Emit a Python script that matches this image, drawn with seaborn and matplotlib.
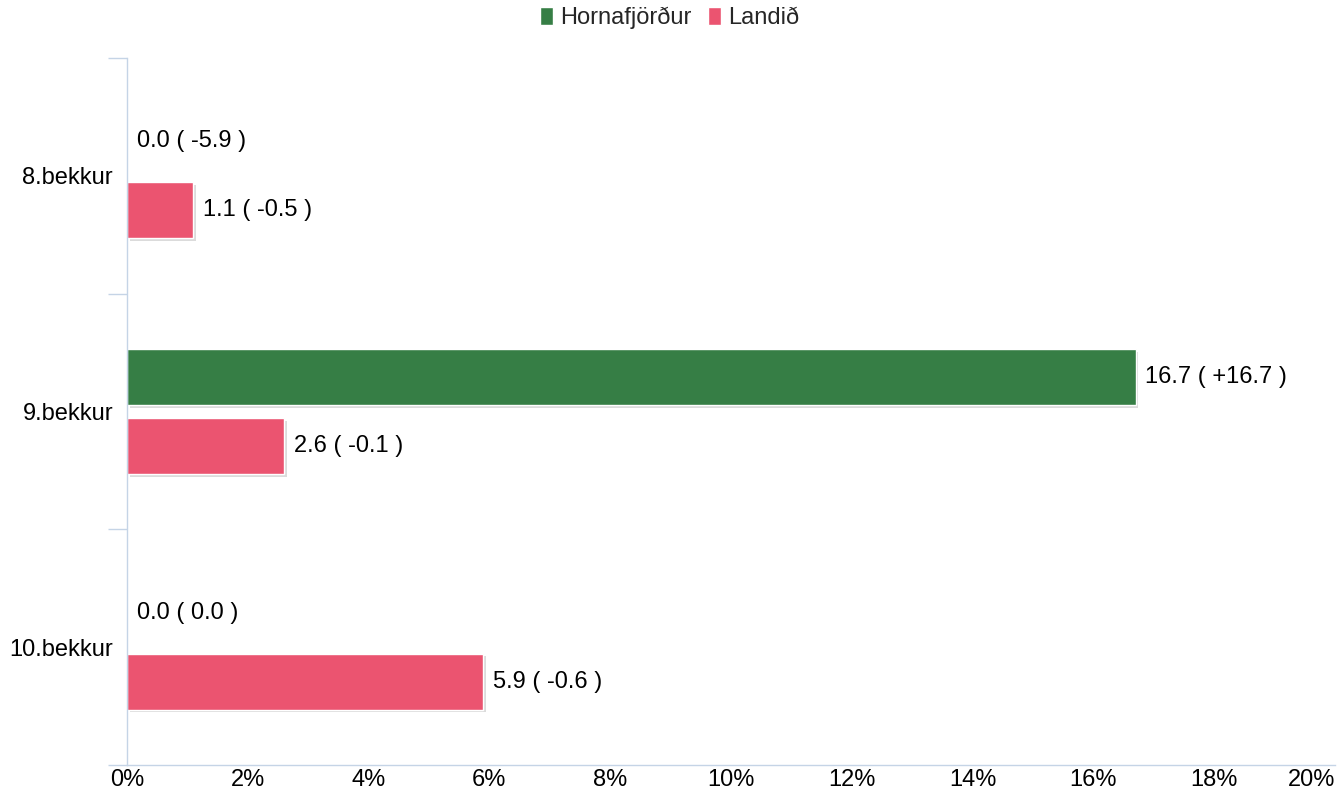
import pandas as pd
import seaborn as sns
import matplotlib.pyplot as plt
import matplotlib.patheffects as pe
from matplotlib.patches import Patch

# Values (percent) and the change shown in brackets
grades = ["8.bekkur", "9.bekkur", "10.bekkur"]
series = ["Hornafjörður", "Landið"]
hornafjordur = [0.0, 16.7, 0.0]
hornafjordur_diff = [-5.9, 16.7, 0.0]
landid = [1.1, 2.6, 5.9]
landid_diff = [-0.5, -0.1, -0.6]
x_ticks = [0, 2, 4, 6, 8, 10, 12, 14, 16, 18, 20]

colors = {"Hornafjörður": "#367E45", "Landið": "#EB5470"}
axis_color = "#C5D4E6"
fs = 17

df = pd.DataFrame({
    "grade": grades * 2,
    "series": [series[0]] * 3 + [series[1]] * 3,
    "value": hornafjordur + landid,
})

sns.set_style("white")
plt.rcParams["font.family"] = ["Liberation Sans", "DejaVu Sans"]

fig = plt.figure(figsize=(13.4, 7.9), dpi=100)
ax = fig.add_axes([127 / 1340, 25 / 790, (1335 - 127) / 1340, (765 - 58) / 790])

sns.barplot(data=df, x="value", y="grade", hue="series", hue_order=series,
            palette=colors, saturation=1, orient="h", width=0.585, gap=0.19,
            edgecolor="white", linewidth=1, legend=False, ax=ax)


def fmt(v, d):
    ds = "0.0" if d == 0 else f"{d:+.1f}"
    return f"{v:.1f} ( {ds} )"


shadow = [pe.SimplePatchShadow(offset=(2, -2), shadow_rgbFace="#999999", alpha=0.35), pe.Normal()]
label_sets = [
    [fmt(v, d) for v, d in zip(hornafjordur, hornafjordur_diff)],
    [fmt(v, d) for v, d in zip(landid, landid_diff)],
]
for cont, labs in zip(ax.containers, label_sets):
    for bar in cont:
        if bar.get_width() > 0:
            bar.set_path_effects(shadow)
    ax.bar_label(cont, labels=labs, padding=7, fontsize=fs, color="black")

ax.set_xlim(0, 20)
ax.set_ylim(2.5, -0.5)
ax.set_xticks(x_ticks)
ax.set_xticklabels([f"{t}%" for t in x_ticks], fontsize=fs, color="black")
ax.get_xticklabels()[-1].set_horizontalalignment("right")
ax.tick_params(axis="x", length=0, pad=3)
ax.tick_params(axis="y", which="major", length=0, pad=10, labelsize=fs, labelcolor="black")
ax.set_yticks([-0.5, 0.5, 1.5, 2.5], minor=True)
ax.tick_params(axis="y", which="minor", left=True, length=14, color=axis_color, width=1)
ax.set_xlabel("")
ax.set_ylabel("")

for s in ["top", "right"]:
    ax.spines[s].set_visible(False)
for s in ["left", "bottom"]:
    ax.spines[s].set_color(axis_color)
    ax.spines[s].set_linewidth(1)

handles = [Patch(facecolor=colors[s], label=s) for s in series]
fig.legend(handles=handles, loc="center", bbox_to_anchor=(0.5, 1 - 18 / 790), ncol=2,
           frameon=False, fontsize=fs, handlelength=0.55, handleheight=0.8,
           handletextpad=0.3, columnspacing=0.7)

fig.savefig("out.png", dpi=100)
